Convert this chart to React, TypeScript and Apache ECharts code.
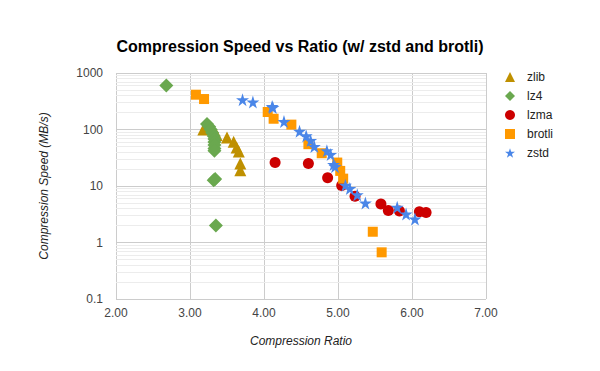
import React, { useEffect, useRef } from "react";
import * as echarts from "echarts";

const seriesNames = ["zlib", "lz4", "lzma", "brotli", "zstd"];

const zlibData: [number, number][] = [
  [3.18, 100], [3.27, 104], [3.36, 80], [3.5, 72], [3.59, 61],
  [3.63, 48], [3.66, 41], [3.68, 25], [3.68, 19],
];
const lz4Data: [number, number][] = [
  [2.68, 600], [3.23, 125], [3.26, 112], [3.28, 100], [3.3, 88],
  [3.32, 77], [3.33, 68], [3.33, 60], [3.33, 53], [3.33, 46], [3.33, 42],
  [3.32, 12.6], [3.34, 13.3], [3.35, 2.0],
];
const lzmaData: [number, number][] = [
  [4.15, 26], [4.6, 25], [4.86, 14], [5.05, 10.2], [5.23, 6.6],
  [5.58, 4.8], [5.68, 3.7], [5.83, 3.6], [6.1, 3.5], [6.19, 3.4],
];
const brotliData: [number, number][] = [
  [3.08, 413], [3.19, 346], [4.05, 204], [4.13, 155], [4.37, 122],
  [4.6, 55], [4.78, 38], [4.99, 26], [5.03, 18.5], [5.07, 13.5],
  [5.47, 1.55], [5.59, 0.67],
];
const zstdData: [number, number][] = [
  [3.71, 337], [3.85, 307], [4.11, 255], [4.12, 245], [4.27, 138],
  [4.48, 93], [4.57, 77], [4.63, 64], [4.68, 50], [4.85, 42],
  [4.9, 36], [4.94, 24], [4.96, 22], [5.1, 10.3], [5.16, 9.0],
  [5.26, 7.0], [5.37, 5.0], [5.8, 4.2], [5.92, 3.2], [6.04, 2.6],
];

const yTickLabels = ["0.1", "1", "10", "100", "1000"];
const minorGridValues = [
  0.2, 0.3, 0.4, 0.5, 0.6, 0.7, 0.8, 0.9,
  2, 3, 4, 5, 6, 7, 8, 9,
  20, 30, 40, 50, 60, 70, 80, 90,
  200, 300, 400, 500, 600, 700, 800, 900,
];

const colors = ["#bf9000", "#6aa84f", "#cc0000", "#ff9900", "#4a86e8"];
const STAR =
  "path://M50,0 L61.2,34.5 L97.6,34.5 L68.2,55.9 L79.4,90.5 L50,69.1 L20.6,90.5 L31.8,55.9 L2.4,34.5 L38.8,34.5 Z";
const symbols = ["triangle", "diamond", "circle", "rect", STAR];
const symbolSizes = [12, 14, 11, 10, 13];
const allData = [zlibData, lz4Data, lzmaData, brotliData, zstdData];

const FONT = "Liberation Sans, Arial, sans-serif";

export default function App() {
  const ref = useRef<HTMLDivElement>(null);
  useEffect(() => {
    document.body.style.margin = "0";
    if (!ref.current) return;
    const chart = echarts.init(ref.current, null, { renderer: "svg" });
    const series: any[] = seriesNames.map((name, i) => ({
      name,
      type: "scatter",
      data: allData[i],
      symbol: symbols[i],
      symbolSize: symbolSizes[i],
      itemStyle: { color: colors[i], opacity: 1 },
      z: 3 + i,
    }));
    series.unshift({
      name: "minor",
      type: "scatter",
      data: [],
      silent: true,
      z: 0,
      markLine: {
        silent: true,
        z: 0,
        symbol: "none",
        label: { show: false },
        animation: false,
        lineStyle: { color: "#ececec", width: 1, type: "solid" },
        data: minorGridValues.map((v) => ({ yAxis: v })),
      },
    });
    chart.setOption({
      animation: false,
      textStyle: { fontFamily: FONT },
      title: {
        text: "Compression Speed vs Ratio (w/ zstd and brotli)",
        left: "center",
        top: 33,
        textStyle: { fontFamily: FONT, fontSize: 16, fontWeight: "bold", color: "#000" },
      },
      legend: {
        orient: "vertical",
        left: 505,
        top: 71,
        padding: 0,
        itemGap: 7,
        itemWidth: 10,
        itemHeight: 10,
        data: seriesNames,
        textStyle: { fontFamily: FONT, fontSize: 12, color: "#222", padding: [0, 0, 0, 7] },
      },
      grid: { left: 116, right: 114, top: 73, bottom: 72, containLabel: false },
      xAxis: {
        type: "value",
        min: 2,
        max: 7,
        interval: 1,
        name: "Compression Ratio",
        nameLocation: "middle",
        nameGap: 36,
        nameTextStyle: { fontFamily: FONT, fontSize: 12, fontStyle: "italic", color: "#222" },
        axisLine: { show: false },
        axisTick: { show: false },
        axisLabel: {
          margin: 8,
          fontSize: 12,
          color: "#444",
          fontFamily: FONT,
          formatter: (v: number) => v.toFixed(2),
        },
        splitLine: { show: true, lineStyle: { color: "#cccccc", width: 1 } },
      },
      yAxis: {
        type: "log",
        logBase: 10,
        min: 0.1,
        max: 1000,
        name: "Compression Speed (MB/s)",
        nameLocation: "middle",
        nameGap: 66,
        nameTextStyle: { fontFamily: FONT, fontSize: 12, fontStyle: "italic", color: "#222" },
        axisLine: { show: false },
        axisTick: { show: false },
        axisLabel: {
          margin: 13,
          fontSize: 12,
          color: "#444",
          fontFamily: FONT,
          formatter: (v: number) => {
            const idx = Math.round(Math.log10(v)) + 1;
            return yTickLabels[idx] ?? String(v);
          },
        },
        splitLine: { show: true, lineStyle: { color: "#cccccc", width: 1 } },
      },
      series,
    });
    return () => chart.dispose();
  }, []);
  return <div ref={ref} style={{ width: 600, height: 371 }} />;
}
